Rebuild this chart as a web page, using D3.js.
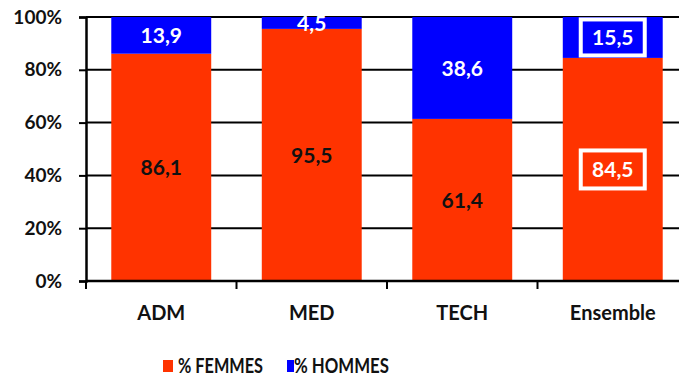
<!DOCTYPE html>
<html><head><meta charset="utf-8">
<script src="https://cdn.jsdelivr.net/npm/d3@7"></script>
<style>body{margin:0;background:#fff}svg{display:block}text{font-family:Lato,"Open Sans",sans-serif;font-weight:700}</style>
</head><body>
<svg id="c" width="679" height="378"></svg>
<script>
const categories = ["ADM","MED","TECH","Ensemble"];
const femmes = [86.1, 95.5, 61.4, 84.5];
const hommes = [13.9, 4.5, 38.6, 15.5];
const yTicks = [0,20,40,60,80,100];
const seriesNames = ["% FEMMES","% HOMMES"];
const colors = ["#FF3300","#0000FF"];

(function(){
const svg = d3.select("#c");
const mLeft = 86, mRight = 688, mTop = 17, mBottom = 281;
const x = d3.scaleBand().domain(categories).range([mLeft, mRight]).paddingInner(0.336).paddingOuter(0.168);
const y = d3.scaleLinear().domain([0,100]).range([mBottom, mTop]);

// gridlines
svg.append("g").selectAll("line").data(yTicks.filter(d=>d>0)).join("line")
  .attr("x1", mLeft).attr("x2", 679).attr("y1", d=>y(d)).attr("y2", d=>y(d))
  .attr("stroke","#000").attr("stroke-width",2);

const fmt = v => String(v).replace(".", ",");
const data = categories.map((c,i)=>({c, f:femmes[i], h:hommes[i]}));

// bars
svg.append("g").selectAll("rect").data(data).join("rect")
  .attr("x", d=>x(d.c)).attr("width", x.bandwidth())
  .attr("y", d=>y(d.f)).attr("height", d=>y(0)-y(d.f)).attr("fill", colors[0]);
svg.append("g").selectAll("rect").data(data).join("rect")
  .attr("x", d=>x(d.c)).attr("width", x.bandwidth())
  .attr("y", d=>y(d.f+d.h)).attr("height", d=>y(d.f)-y(d.f+d.h)).attr("fill", colors[1]);

// y axis
const yAxis = d3.axisLeft(y).tickValues(yTicks).tickFormat(d=>d+"%").tickSize(7).tickPadding(17);
const ya = svg.append("g").attr("transform",`translate(${mLeft},0)`).call(yAxis);
ya.select(".domain").attr("stroke","#000").attr("stroke-width",2.5);
ya.selectAll(".tick line").attr("stroke","#000").attr("stroke-width",2);
ya.selectAll(".tick text").attr("font-size",19).attr("fill","#111").attr("font-family","Lato").attr("font-weight",700);

// x axis
const xa = svg.append("g").attr("transform",`translate(0,${mBottom})`);
xa.append("line").attr("x1",mLeft).attr("x2",679).attr("y1",0).attr("y2",0).attr("stroke","#000").attr("stroke-width",2.5);
const step = x.step();
xa.selectAll("line.tk").data(categories).join("line").attr("class","tk")
  .attr("x1",d=>x(d)-x.paddingOuter()*step).attr("x2",d=>x(d)-x.paddingOuter()*step)
  .attr("y1",0).attr("y2",8).attr("stroke","#000").attr("stroke-width",2);
xa.selectAll("text").data(categories).join("text")
  .attr("x",d=>x(d)+x.bandwidth()/2).attr("y",39).attr("text-anchor","middle")
  .attr("font-size",20).attr("fill","#111").text(d=>d);

// labels
const isEns = d => d.c === "Ensemble";
const lbl = svg.append("g");
data.forEach(d=>{
  const cx = x(d.c)+x.bandwidth()/2;
  const fy = (y(d.f)+y(0))/2, hy = (y(d.f+d.h)+y(d.f))/2;
  if (isEns(d)) {
    lbl.append("rect").attr("x",cx-32).attr("y",fy-19).attr("width",64).attr("height",38)
      .attr("fill",colors[0]).attr("stroke","#fff").attr("stroke-width",4);
    lbl.append("rect").attr("x",cx-32).attr("y",hy-18).attr("width",64).attr("height",36)
      .attr("fill",colors[1]).attr("stroke","#fff").attr("stroke-width",4);
  }
  lbl.append("text").attr("x",cx).attr("y",fy).attr("dy","0.36em").attr("text-anchor","middle")
    .attr("font-size",21).attr("fill", isEns(d)?"#fff":"#111").text(fmt(d.f));
  lbl.append("text").attr("x",cx).attr("y",hy).attr("dy","0.36em").attr("text-anchor","middle")
    .attr("font-size",21).attr("fill","#fff").text(fmt(d.h));
});

// legend
const lg = svg.append("g");
const lx = [163, 287];
seriesNames.forEach((n,i)=>{
  lg.append("rect").attr("x",lx[i]).attr("y",360).attr("width",i?7:10).attr("height",12).attr("fill",colors[i]);
  lg.append("text").attr("x",lx[i]+(i?7:15)).attr("y",373).attr("font-size",20).attr("font-weight",400)
    .attr("textLength", i?95:85).attr("lengthAdjust","spacingAndGlyphs").attr("fill","#111").text(n);
});
})();
</script>
</body></html>
